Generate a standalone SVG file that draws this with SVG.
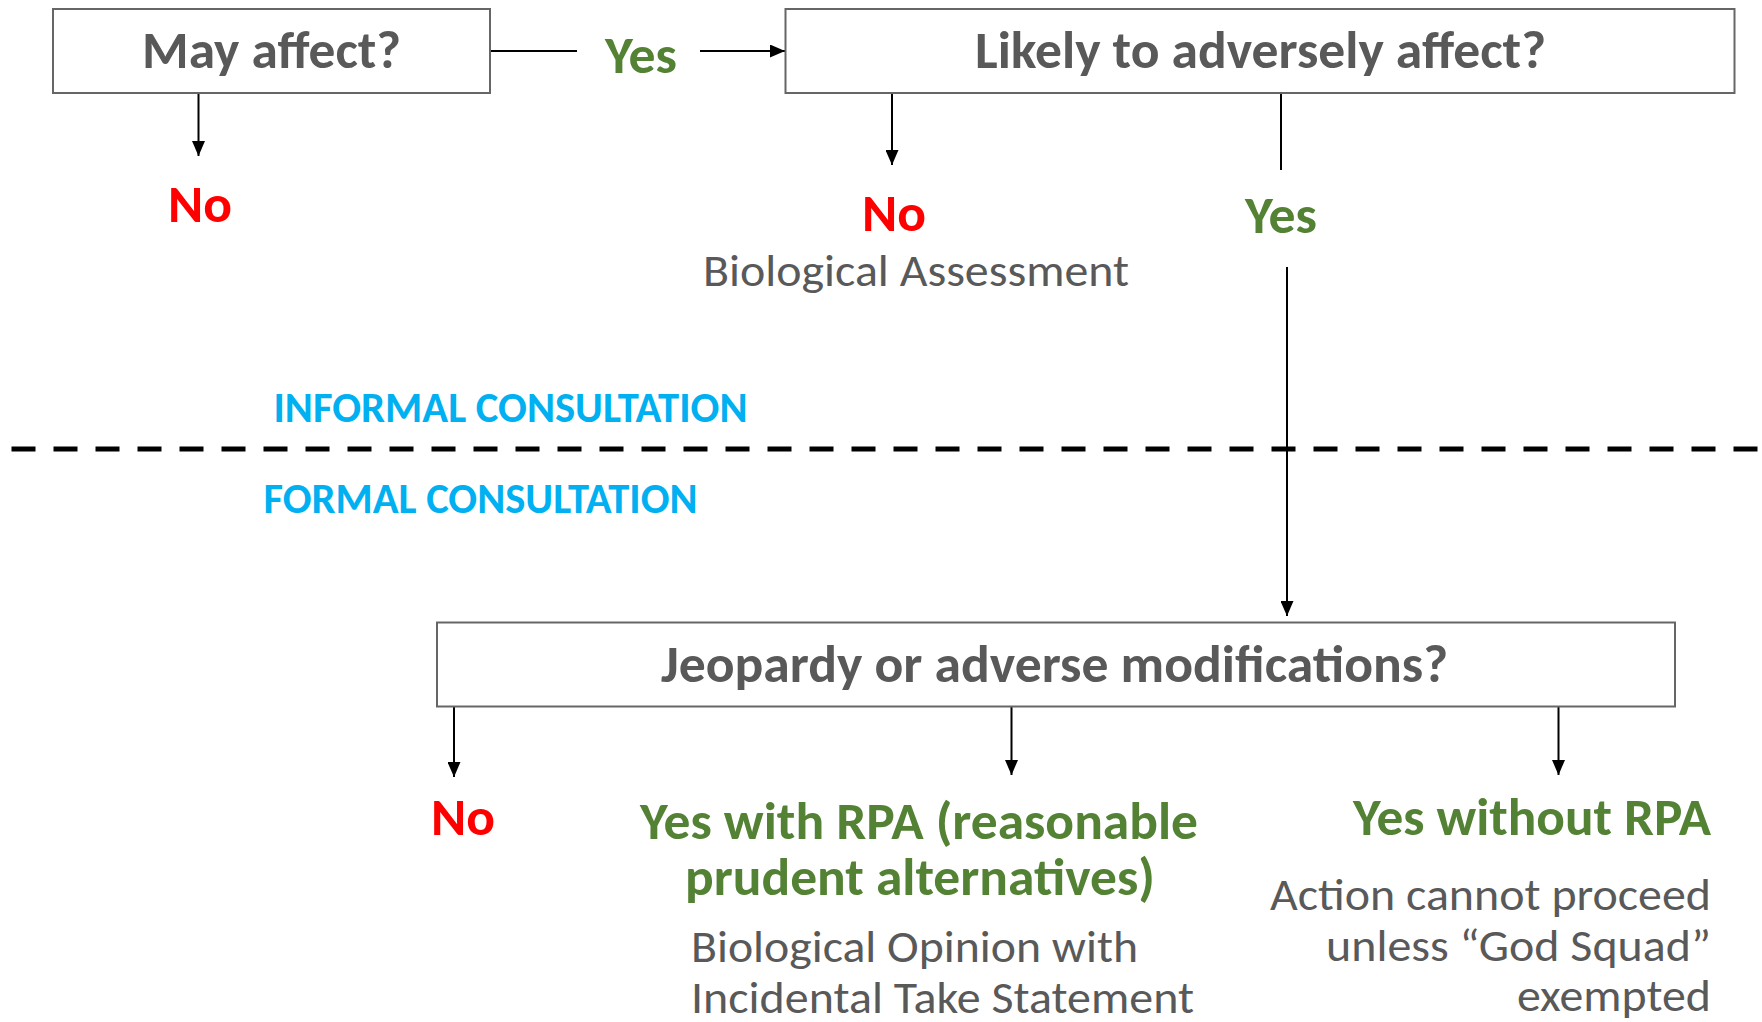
<svg xmlns="http://www.w3.org/2000/svg" width="1762" height="1022" viewBox="0 0 1762 1022">
<style>
.box{fill:#ffffff;stroke:#666666;stroke-width:2}
.t{font-family:Carlito,"Liberation Sans Narrow","Open Sans","Liberation Sans",sans-serif}
.title{font-weight:bold;font-size:52px;fill:#595959}
.lbl{font-weight:bold;font-size:52px}
.no{fill:#ff0000}
.yes{fill:#548235}
.note{font-size:46px;fill:#595959}
.zone{font-weight:bold;font-size:42px;fill:#00b0f0}
.conn{stroke:#000000;stroke-width:2;fill:none}
.dash{stroke:#000000;stroke-width:5;stroke-dasharray:24 18;fill:none}
</style>
<defs>
<marker id="ah" markerUnits="userSpaceOnUse" viewBox="0 0 15 13" refX="15" refY="6.5" markerWidth="15" markerHeight="13" orient="auto">
<path d="M0,0 L15,6.5 L0,13 z" fill="#000000"/>
</marker>
</defs>
<rect width="1762" height="1022" fill="#ffffff"/>

<g id="connectors">
<line class="conn" x1="490" y1="51" x2="577" y2="51"/>
<line class="conn" x1="700" y1="51" x2="785" y2="51" marker-end="url(#ah)"/>
<line class="conn" x1="198.5" y1="93" x2="198.5" y2="156" marker-end="url(#ah)"/>
<line class="conn" x1="892" y1="93" x2="892" y2="165" marker-end="url(#ah)"/>
<line class="conn" x1="1281" y1="93" x2="1281" y2="170"/>
<line class="conn" x1="1287" y1="267" x2="1287" y2="616" marker-end="url(#ah)"/>
<line class="conn" x1="454" y1="706" x2="454" y2="777" marker-end="url(#ah)"/>
<line class="conn" x1="1011.5" y1="705" x2="1011.5" y2="775" marker-end="url(#ah)"/>
<line class="conn" x1="1558.5" y1="705" x2="1558.5" y2="775" marker-end="url(#ah)"/>
</g>

<g id="divider">
<line class="dash" x1="11.5" y1="449" x2="1762" y2="449"/>
<text class="t zone" x="273.5" y="422" textLength="474" lengthAdjust="spacingAndGlyphs">INFORMAL CONSULTATION</text>
<text class="t zone" x="263.5" y="513" textLength="434" lengthAdjust="spacingAndGlyphs">FORMAL CONSULTATION</text>
</g>

<g id="may-affect">
<rect class="box" x="53" y="9" width="437" height="84"/>
<text class="t title" x="142" y="68" textLength="259" lengthAdjust="spacingAndGlyphs">May affect?</text>
</g>

<g id="yes-1">
<text class="t lbl yes" x="605" y="73" textLength="72" lengthAdjust="spacingAndGlyphs">Yes</text>
</g>

<g id="no-1">
<text class="t lbl no" x="168" y="222" textLength="64" lengthAdjust="spacingAndGlyphs">No</text>
</g>

<g id="likely-adverse">
<rect class="box" x="785.5" y="9" width="949" height="84"/>
<text class="t title" x="975" y="68" textLength="571" lengthAdjust="spacingAndGlyphs">Likely to adversely affect?</text>
</g>

<g id="no-2">
<text class="t lbl no" x="862" y="231" textLength="64" lengthAdjust="spacingAndGlyphs">No</text>
<text class="t note" x="703" y="286" textLength="426" lengthAdjust="spacingAndGlyphs">Biological Assessment</text>
</g>

<g id="yes-2">
<text class="t lbl yes" x="1245" y="233" textLength="72" lengthAdjust="spacingAndGlyphs">Yes</text>
</g>

<g id="jeopardy">
<rect class="box" x="437" y="622.5" width="1238" height="84"/>
<text class="t title" x="661" y="682" textLength="787" lengthAdjust="spacingAndGlyphs">Jeopardy or adverse modifications?</text>
</g>

<g id="no-3">
<text class="t lbl no" x="431" y="835" textLength="64" lengthAdjust="spacingAndGlyphs">No</text>
</g>

<g id="yes-rpa">
<text class="t lbl yes" x="640" y="839" textLength="558" lengthAdjust="spacingAndGlyphs">Yes with RPA (reasonable</text>
<text class="t lbl yes" x="685" y="895" textLength="470" lengthAdjust="spacingAndGlyphs">prudent alternatives)</text>
<text class="t note" x="691" y="962" textLength="447" lengthAdjust="spacingAndGlyphs">Biological Opinion with</text>
<text class="t note" x="691" y="1013" textLength="503" lengthAdjust="spacingAndGlyphs">Incidental Take Statement</text>
</g>

<g id="yes-no-rpa">
<text class="t lbl yes" x="1353" y="835" textLength="358" lengthAdjust="spacingAndGlyphs">Yes without RPA</text>
<text class="t note" x="1270" y="910" textLength="441" lengthAdjust="spacingAndGlyphs">Action cannot proceed</text>
<text class="t note" x="1326" y="961" textLength="385" lengthAdjust="spacingAndGlyphs">unless “God Squad”</text>
<text class="t note" x="1517" y="1011" textLength="194" lengthAdjust="spacingAndGlyphs">exempted</text>
</g>
</svg>
